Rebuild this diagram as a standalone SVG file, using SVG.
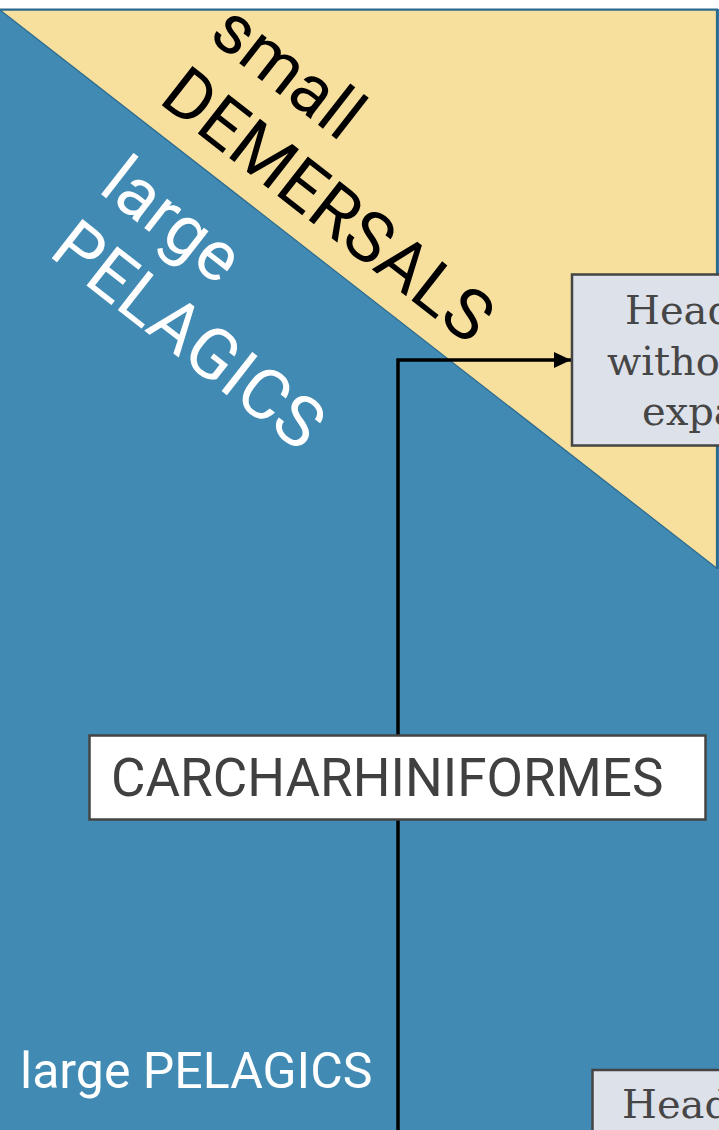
<svg xmlns="http://www.w3.org/2000/svg" width="719" height="1130" viewBox="0 0 719 1130">
<style>
.zone-label{font-family:Roboto,"Liberation Sans",sans-serif;font-size:70px}
.head{fill:#dde1ea;stroke:#444;stroke-width:2.5}
.head-text{font-family:"DejaVu Serif","Liberation Serif",serif;font-size:40px;fill:#464646}
.order{fill:#fff;stroke:#444;stroke-width:2.5}
.order-text{font-family:Roboto,"Liberation Sans",sans-serif;font-size:53px;fill:#404040}
.conn{fill:none;stroke:#000;stroke-width:3.5}
</style>
<defs>
<marker id="arrow" markerUnits="userSpaceOnUse" markerWidth="20" markerHeight="20" refX="17" refY="8" orient="auto">
<path d="M0,0 L17,8 L0,16 Z" fill="#000"/>
</marker>
</defs>
<rect x="0" y="0" width="719" height="1130" fill="#fff"/>
<g id="zones">
<rect id="pelagic-zone" x="0" y="9" width="719" height="1121" fill="#418ab3"/>
<polygon id="demersal-zone" points="0,10 716.5,10 716.5,568" fill="#f7df9d" stroke="#2d6b8f" stroke-width="1.2" stroke-linejoin="miter"/>
<line x1="0" y1="9.5" x2="718" y2="9.5" stroke="#2b6a8e" stroke-width="2"/>
<line x1="717.5" y1="9" x2="717.5" y2="569" stroke="#2b6a8e" stroke-width="2"/>
</g>
<g id="label-small-demersals" transform="translate(207,38) rotate(38)">
<text class="zone-label" x="0" y="0" fill="#000">small</text>
<text class="zone-label" x="0" y="81" fill="#000">DEMERSALS</text>
</g>
<g id="label-large-pelagics-diag" transform="translate(97,191) rotate(38)">
<text class="zone-label" x="0" y="0" fill="#fff">large</text>
<text class="zone-label" x="0" y="81" fill="#fff">PELAGICS</text>
</g>
<g id="label-large-pelagics">
<text x="20" y="1088" font-family="Roboto,'Liberation Sans',sans-serif" font-size="50" fill="#fff">large PELAGICS</text>
</g>
<g id="connectors">
<path class="conn" d="M398,1135 L398,360 L571,360" marker-end="url(#arrow)"/>
</g>
<g id="node-carcharhiniformes">
<rect class="order" x="89.5" y="735.5" width="616" height="84"/>
<text class="order-text" x="111" y="796">CARCHARHINIFORMES</text>
</g>
<g id="node-head-1">
<rect class="head" x="572" y="274.5" width="200" height="171"/>
<text class="head-text" x="625" y="324">Heading</text>
<text class="head-text" x="607" y="375">without</text>
<text class="head-text" x="642" y="425">expansion</text>
</g>
<g id="node-head-2">
<rect class="head" x="592.5" y="1070" width="200" height="100"/>
<text class="head-text" x="622" y="1118">Heading</text>
</g>
</svg>
